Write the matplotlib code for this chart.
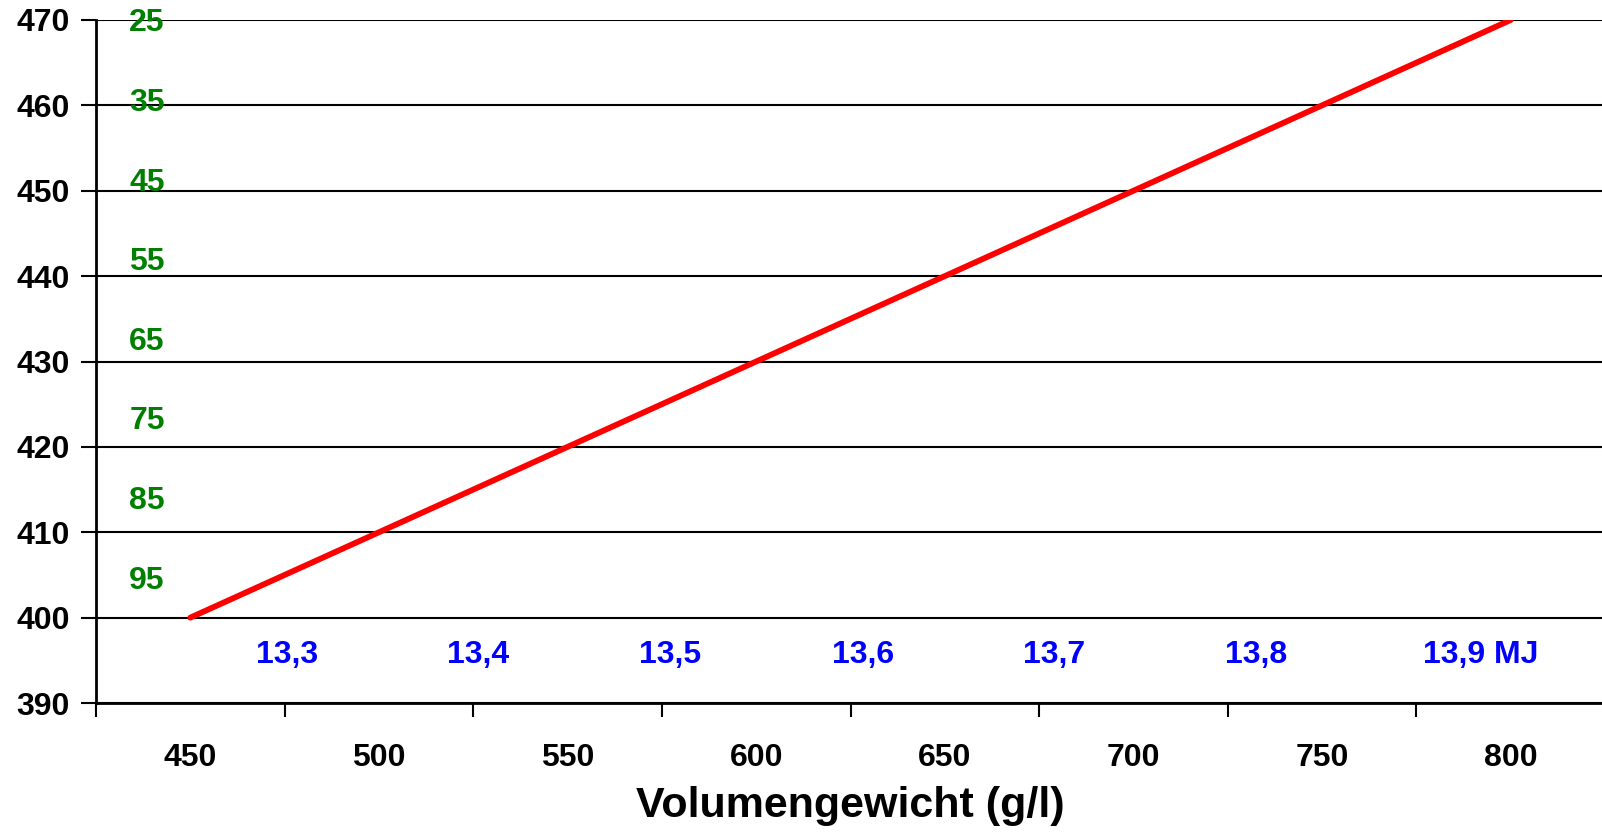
import matplotlib.pyplot as plt
import numpy as np

# Data
volumengewicht = [450, 500, 550, 600, 650, 700, 750, 800]
waarden = [400, 410, 420, 430, 440, 450, 460, 470]
groen_labels = ['25', '35', '45', '55', '65', '75', '85', '95']
blauw_labels = ['13,3', '13,4', '13,5', '13,6', '13,7', '13,8', '13,9 MJ']

plt.rcParams['font.family'] = ['Liberation Sans', 'DejaVu Sans']
plt.rcParams['font.weight'] = 'bold'

fig = plt.figure(figsize=(16.02, 8.32), dpi=100)
ax = fig.add_axes([0.0599, 0.155, 0.942, 0.821])

x = np.arange(len(volumengewicht))
ax.plot(x, waarden, color='#ff0000', lw=4.2, solid_capstyle='round', zorder=3)

ax.set_xlim(-0.5, len(volumengewicht) - 0.5)
ax.set_ylim(390, 470)
ax.set_yticks(np.arange(390, 471, 10))
ax.yaxis.grid(True, color='black', lw=1.5)
ax.set_axisbelow(True)

# categorie-as: streepjes tussen de categorieen, labels in het midden
ax.set_xticks(np.arange(-0.5, len(volumengewicht), 1))
ax.set_xticklabels([])
ax.set_xticks(x, minor=True)
ax.set_xticklabels([str(v) for v in volumengewicht], minor=True)
ax.tick_params(axis='x', which='major', length=10, width=1.5, direction='out')
ax.tick_params(axis='x', which='minor', length=0, pad=29, labelsize=23)
ax.tick_params(axis='y', length=11, width=1.5, pad=8, labelsize=23)

for s in ['top', 'right']:
    ax.spines[s].set_visible(False)
for s in ['left', 'bottom']:
    ax.spines[s].set_linewidth(2)

ax.set_xlabel('Volumengewicht (g/l)', fontsize=31, fontweight='bold', labelpad=9)

# groene labels links
gy = np.linspace(469.6, 404.35, len(groen_labels))
for lab, yy in zip(groen_labels, gy):
    ax.text(-0.23, yy, lab, color='#008000', fontsize=23, ha='center', va='center')

# blauwe labels onder
bx = [0.514, 1.527, 2.545, 3.568, 4.581, 5.652, 6.84]
for lab, xx in zip(blauw_labels, bx):
    ax.text(xx, 395.65, lab, color='#0000ff', fontsize=23, ha='center', va='center')

plt.savefig('out.png', dpi=100)
